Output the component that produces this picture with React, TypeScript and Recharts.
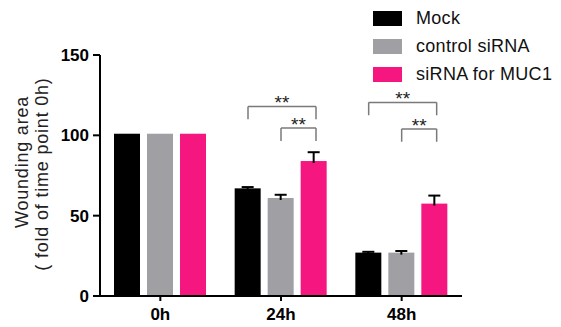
import React from 'react';
import { BarChart, Bar, XAxis, YAxis, Legend, ReferenceLine, ReferenceDot } from 'recharts';

// time points
const timePoints = ['0h', '24h', '48h'];

// wounding area, fold of 0h
const mockValues = [101, 67, 27];
const controlValues = [101, 61, 27];
const muc1Values = [101, 84, 57.5];

// upper error (SEM)
const mockErr = [0, 0.8, 0.5];
const controlErr = [0, 2, 1];
const muc1Err = [0, 5.5, 5];

const yTicks = [0, 50, 100, 150];

// significance brackets: category index, series from/to, bracket top and leg bottom (data units)
const brackets = [
  { cat: 1, from: 0, to: 2, top: 118, leg: 110, label: '**' },
  { cat: 1, from: 1, to: 2, top: 104.5, leg: 96.5, label: '**' },
  { cat: 2, from: 0, to: 2, top: 120.5, leg: 112.5, label: '**' },
  { cat: 2, from: 1, to: 2, top: 104, leg: 96, label: '**' },
];

const series = [
  { key: 'mock', err: 'mockErr', name: 'Mock', color: '#000000' },
  { key: 'control', err: 'controlErr', name: 'control siRNA', color: '#a09fa4' },
  { key: 'muc1', err: 'muc1Err', name: 'siRNA for MUC1', color: '#f5177f' },
];

const data = timePoints.map((t, i) => ({
  name: t,
  pos: i + 0.5,
  mock: mockValues[i],
  control: controlValues[i],
  muc1: muc1Values[i],
  mockErr: mockErr[i],
  controlErr: controlErr[i],
  muc1Err: muc1Err[i],
}));

const BAR_SIZE = 26;
const BAR_GAP = 7;
const BAND = 362 / 3; // px per category, used to place brackets on the hidden numeric axis
const FONT = '"Liberation Sans", Arial, sans-serif';

// x position (hidden numeric axis units) of a series bar center inside a category
const barPos = (cat: number, s: number) => cat + 0.5 + ((s - 1) * (BAR_SIZE + BAR_GAP) + (s === 2 ? 2 : 0)) / BAND;

const makeShape = (valueKey: string, errKey: string) => (props: any) => {
  const { x, y, width, height, fill, payload } = props;
  const v = payload[valueKey];
  const e = payload[errKey];
  const pxPer = v ? height / v : 0;
  const cx = x + width / 2;
  const ey = y - e * pxPer;
  return (
    <g>
      <rect x={x} y={y} width={width} height={height} fill={fill} />
      {e > 0 && (
        <g stroke="#000" strokeWidth={2}>
          <line x1={cx} y1={y + 2} x2={cx} y2={ey} />
          <line x1={cx - 6} y1={ey} x2={cx + 6} y2={ey} />
        </g>
      )}
    </g>
  );
};

const LegendContent = (props: any) => {
  const { payload } = props;
  return (
    <div style={{ fontFamily: FONT, fontSize: 18, letterSpacing: 0.3, color: '#111' }}>
      {payload.map((p: any) => (
        <div key={p.value} style={{ display: 'flex', alignItems: 'center', height: 27.8 }}>
          <div style={{ width: 29, height: 15, background: p.color, marginRight: 14 }} />
          <span>{p.value}</span>
        </div>
      ))}
    </div>
  );
};

const YLabel = () => (
  <g fontFamily={FONT} fontSize={18} letterSpacing={0.8} fill="#222">
    <text x={22} y={162} transform="rotate(-90 22 162)" textAnchor="middle" dominantBaseline="central">
      Wounding area
    </text>
    <text x={42} y={174} transform="rotate(-90 42 174)" textAnchor="middle" dominantBaseline="central">
      ( fold of time point 0h)
    </text>
  </g>
);

const App: React.FC = () => {
  return (
    <div style={{ position: 'absolute', left: 0, top: 0 }}>
      <BarChart
        width={561}
        height={327}
        data={data}
        margin={{ top: 55, right: 99, bottom: 1, left: 0 }}
        barSize={BAR_SIZE}
        barGap={BAR_GAP}
      >
        <XAxis
          dataKey="name"
          axisLine={{ stroke: '#000', strokeWidth: 2 }}
          tickLine={{ stroke: '#000', strokeWidth: 2 }}
          tickSize={5}
          tickMargin={7}
          tick={{ fill: '#000', fontFamily: FONT, fontSize: 17, fontWeight: 'bold' }}
        />
        <XAxis xAxisId="n" dataKey="pos" type="number" domain={[0, 3]} allowDataOverflow hide />
        <YAxis
          width={100}
          domain={[0, 150]}
          ticks={yTicks}
          axisLine={{ stroke: '#000', strokeWidth: 2 }}
          tickLine={{ stroke: '#000', strokeWidth: 2 }}
          tickSize={7}
          tickMargin={4}
          tick={{ fill: '#000', fontFamily: FONT, fontSize: 17, fontWeight: 'bold' }}
          label={<YLabel />}
        />
        <Legend
          layout="vertical"
          align="center"
          verticalAlign="middle"
          content={<LegendContent />}
          wrapperStyle={{ position: 'absolute', left: 373, top: 5, width: 190, height: 90 }}
        />
        {series.map((s) => (
          <Bar
            key={s.key}
            dataKey={s.key}
            name={s.name}
            fill={s.color}
            isAnimationActive={false}
            shape={makeShape(s.key, s.err)}
          />
        ))}
        {brackets.map((b, i) => {
          const x1 = barPos(b.cat, b.from);
          const x2 = barPos(b.cat, b.to);
          return (
            <React.Fragment key={i}>
              <ReferenceLine
                xAxisId="n"
                segment={[{ x: x1, y: b.top }, { x: x2, y: b.top }]}
                stroke="#7a7a7a"
                strokeWidth={1.5}
              />
              <ReferenceLine
                xAxisId="n"
                segment={[{ x: x1, y: b.leg }, { x: x1, y: b.top }]}
                stroke="#7a7a7a"
                strokeWidth={1.5}
              />
              <ReferenceLine
                xAxisId="n"
                segment={[{ x: x2, y: b.leg }, { x: x2, y: b.top }]}
                stroke="#7a7a7a"
                strokeWidth={1.5}
              />
              <ReferenceDot
                xAxisId="n"
                x={(x1 + x2) / 2}
                y={b.top}
                r={0}
                fill="none"
                stroke="none"
                label={{ value: b.label, position: 'top', offset: -3, fill: '#222', fontSize: 19, fontFamily: FONT }}
              />
            </React.Fragment>
          );
        })}
      </BarChart>
    </div>
  );
};

export default App;
